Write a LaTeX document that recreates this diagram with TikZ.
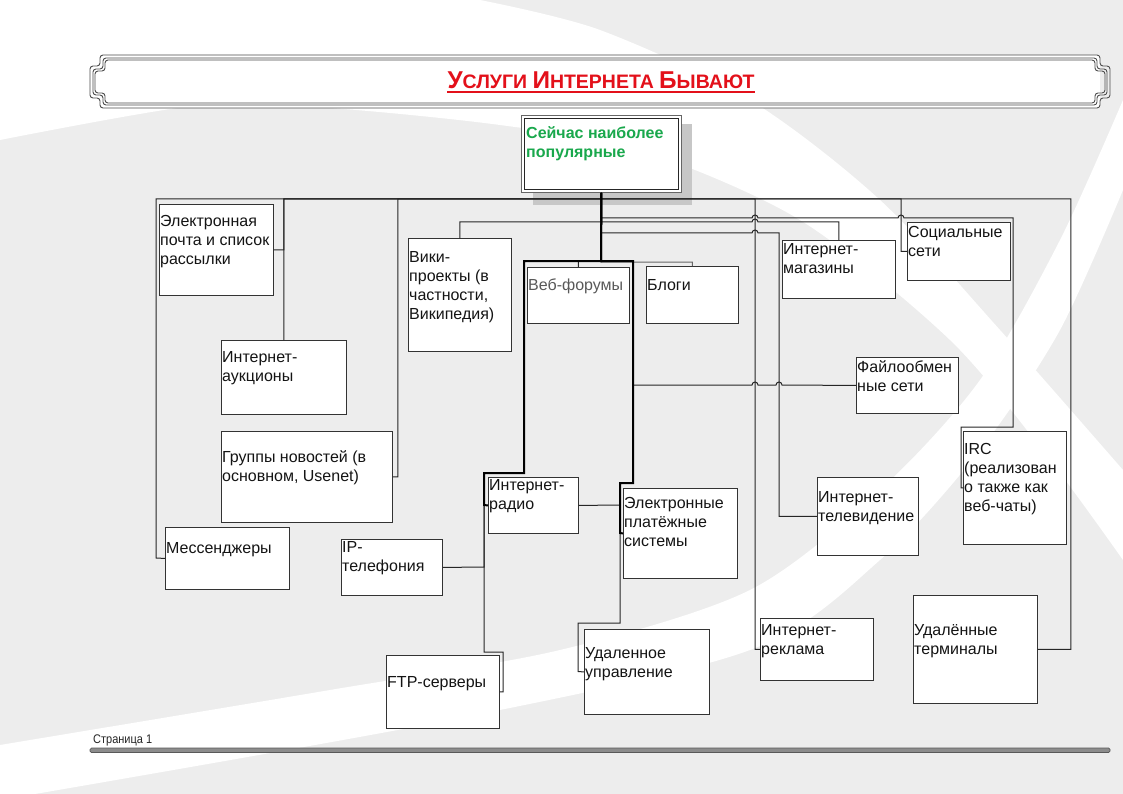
\documentclass[tikz,border=0pt]{standalone}
\usepackage{fontspec}
\setmainfont{Liberation Sans}
\usetikzlibrary{calc}
\definecolor{bggray}{HTML}{EDEDED}
\definecolor{titlered}{HTML}{E3101A}
\definecolor{topgreen}{HTML}{19A84C}
\tikzset{
  box/.style={draw=black!80, fill=white, line width=0.9pt, anchor=north west, inner sep=0pt},
  txt/.style={anchor=north west, inner sep=0pt, font=\fontsize{16}{19}\selectfont, align=left, text=black!92},
  conn/.style={draw=black!85, line width=1pt},
  thickconn/.style={draw=black, line width=2pt},
  frameline/.style={draw=black!70, line width=0.9pt, rounded corners=3pt},
}
\begin{document}
\begin{tikzpicture}[x=1pt,y=-1pt]
\useasboundingbox (0,0) rectangle (1123,794);
% background
\fill[bggray] (0,0) rectangle (1123,794);
\fill[white] plot[smooth] coordinates {(0,140) (200,105) (330,108) (500,125) (640,150) (800,220) (950,340) (1050,460) (1123,560)}
  -- plot[smooth] coordinates {(1123,470) (1000,330) (880,200) (750,100) (600,30) (480,0)} -- (0,0) -- cycle;
\fill[white] plot[smooth] coordinates {(0,745) (330,690) (560,650) (750,590) (880,490) (980,380) (1060,240) (1123,100)}
  -- plot[smooth] coordinates {(1123,190) (1060,330) (980,450) (880,560) (750,650) (450,720) (0,800)} -- cycle;

% title banner
\fill[white] (100,55) rectangle (1100,108);
\foreach \d in {0,3,5}{
  \draw[frameline] (100+\d,55+\d) -- (1100-\d,55+\d) -- (1100-\d,66+\d) -- (1110-\d,66+\d) -- (1110-\d,98-\d) -- (1100-\d,98-\d) -- (1100-\d,108-\d) -- (100+\d,108-\d) -- (100+\d,98-\d) -- (90+\d,98-\d) -- (90+\d,66+\d) -- (100+\d,66+\d) -- cycle;
}
\node[anchor=base, inner sep=0pt, text=titlered, font=\bfseries] (title) at (601,89)
  {\resizebox{307pt}{!}{\fontsize{24}{24}\selectfont У\fontsize{19.2}{24}\selectfont СЛУГИ \fontsize{24}{24}\selectfont И\fontsize{19.2}{24}\selectfont НТЕРНЕТА \fontsize{24}{24}\selectfont Б\fontsize{19.2}{24}\selectfont ЫВАЮТ}};
\draw[titlered, line width=1.5pt] ($(title.base west)+(0,3)$) -- ($(title.base east)+(0,3)$);

% top box
\fill[black!22] (533,124) rectangle (692,205);
\node[box, draw=black!60, minimum width=160pt, minimum height=77pt] (top) at (521,115) {};
\draw[black!85, line width=0.9pt] (524,118) rectangle (678,189);
\node[txt, font=\fontsize{16}{19}\selectfont\bfseries, text=topgreen] (toptxt) at (526,124.7) {\strut Сейчас наиболее\\популярные};

% boxes
\node[box, minimum width=114pt, minimum height=91pt] (email) at (159,204) {};
\node[box, minimum width=125pt, minimum height=74pt] (auk) at (221,340) {};
\node[box, minimum width=171pt, minimum height=91pt] (news) at (221,431) {};
\node[box, minimum width=124pt, minimum height=62pt] (mess) at (165,527) {};
\node[box, minimum width=101pt, minimum height=56pt] (ip) at (341,539) {};
\node[box, minimum width=103pt, minimum height=113pt] (wiki) at (408,238) {};
\node[box, minimum width=102pt, minimum height=56pt] (forum) at (527,267) {};
\node[box, minimum width=92pt, minimum height=57pt] (blog) at (646,266) {};
\node[box, minimum width=90pt, minimum height=56pt] (radio) at (488,477) {};
\node[box, minimum width=114pt, minimum height=90pt] (pay) at (623,488) {};
\node[box, minimum width=125pt, minimum height=85pt] (remote) at (584,629) {};
\node[box, minimum width=113pt, minimum height=73pt] (ftp) at (386,655) {};
\node[box, minimum width=113pt, minimum height=58pt] (shop) at (782,240) {};
\node[box, minimum width=103pt, minimum height=58pt] (social) at (907,222) {};
\node[box, minimum width=102pt, minimum height=56pt] (file) at (856,357) {};
\node[box, minimum width=101pt, minimum height=78pt] (tv) at (817,477) {};
\node[box, minimum width=103pt, minimum height=113pt] (irc) at (963,431) {};
\node[box, minimum width=113pt, minimum height=62pt] (adv) at (760,618) {};
\node[box, minimum width=124pt, minimum height=108pt] (term) at (913,595) {};

% texts
\node[txt] (emailt) at (160,212.7) {\strut Электронная\\почта и список\\рассылки};
\node[txt] (aukt) at (222,348.7) {\strut Интернет-\\аукционы};
\node[txt] (newst) at (222,448.7) {\strut Группы новостей (в\\основном, Usenet)};
\node[txt] (messt) at (166,539.7) {\strut Мессенджеры};
\node[txt] (ipt) at (342,538.7) {\strut IP-\\телефония};
\node[txt] (wikit) at (409,248.7) {\strut Вики-\\проекты (в\\частности,\\Википедия)};
\node[txt, text=black!65] (forumt) at (528,276.7) {\strut Веб-форумы};
\node[txt] (blogt) at (647,276.7) {\strut Блоги};
\node[txt] (radiot) at (489,476.7) {\strut Интернет-\\радио};
\node[txt] (payt) at (624,494.7) {\strut Электронные\\платёжные\\системы};
\node[txt] (shopt) at (783,240.7) {\strut Интернет-\\магазины};
\node[txt] (socialt) at (908,223.7) {\strut Социальные\\сети};
\node[txt] (filet) at (857,358.7) {\strut Файлообмен\\ные сети};
\node[txt] (tvt) at (818,488.7) {\strut Интернет-\\телевидение};
\node[txt] (irct) at (964,440.7) {\strut IRC\\(реализован\\о также как\\веб-чаты)};
\node[txt] (remotet) at (585,644.7) {\strut Удаленное\\управление};
\node[txt] (ftpt) at (387,673.7) {\strut FTP-серверы};
\node[txt] (advt) at (761,621.7) {\strut Интернет-\\реклама};
\node[txt] (termt) at (914,621.7) {\strut Удалённые\\терминалы};

% connectors: main bus
\draw[conn] (top.south) -- (601,199) -| (156,558) -- (mess.west);
\draw[conn] (top.south) -- (601,199) -| (auk.north);
\draw[conn] (top.south) -- (601,199) -| (auk.north |- email.east) -- (email.east);
\draw[conn] (top.south) -- (601,199) -| ($(news.east)+(5,0)$) -- (news.east);
\draw[conn] (top.south) -- (601,199) -| ($(adv.west)+(-5,0)$) -- (adv.west);
\draw[conn] (top.south) -- (601,199) -| ($(social.west)+(-6,0)$) -- (social.west);
\draw[conn] (top.south) -- (601,199) -| ($(term.east)+(33,0)$) -- (term.east);
% second level lines
\draw[conn] (top.south) -- (601,222) -| (wiki.north);
\draw[conn] (top.south) -- (601,222) -- (752,222) arc[start angle=180,end angle=360,radius=3] -| (shop.north);
\draw[conn] (top.south) -- (601,218) -- (752,218) arc[start angle=180,end angle=360,radius=3] -- (898,218) arc[start angle=180,end angle=360,radius=3] -- (1013,218) -- (1013,427) -- (961,427) |- (irc.west);
\draw[conn] (top.south) -- (601,233) -- (752,233) arc[start angle=180,end angle=360,radius=3] -- (779,233) |- (tv.west);
% lower group
\draw[conn] (top.south) -- (601,261) -| (forum.north);
\draw[conn, draw=black!60] (top.south) -- (601,262) -| (blog.north);
\draw[conn] (top.south) -- (601,261) -| (524,473) -| (484,567) -- (ip.east);
\draw[conn] (top.south) -- (601,261) -| (524,473) -| (484,652) -- (503,652) |- (ftp.east);
\draw[conn] (top.south) -- (601,261) -| (633,385) -- (752,385) arc[start angle=180,end angle=360,radius=3] -- (776,385) arc[start angle=180,end angle=360,radius=3] -- (file.west);
\draw[conn] (top.south) -- (601,261) -| (633,483) -| (620,623) -| (578,671.5) -- (remote.west);
\draw[conn] (radio.east) -- (620,505);
\draw[thickconn] (top.south) -- (601,261) -| (524,473) -| (484,505) -- (radio.west);
\draw[thickconn] (top.south) -- (601,261) -| (633,483) -| (620,533) -- (pay.west);

% footer
\node[anchor=base west, inner sep=0pt, font=\fontsize{12.5}{14}\selectfont, text=black!85] (page) at (93,743) {\scalebox{0.88}[1]{Страница 1}};
\draw[draw=black!65, fill=black!45, rounded corners=1.5pt, line width=0.7pt] (90,748) rectangle (1110,752.5);
\end{tikzpicture}
\end{document}
